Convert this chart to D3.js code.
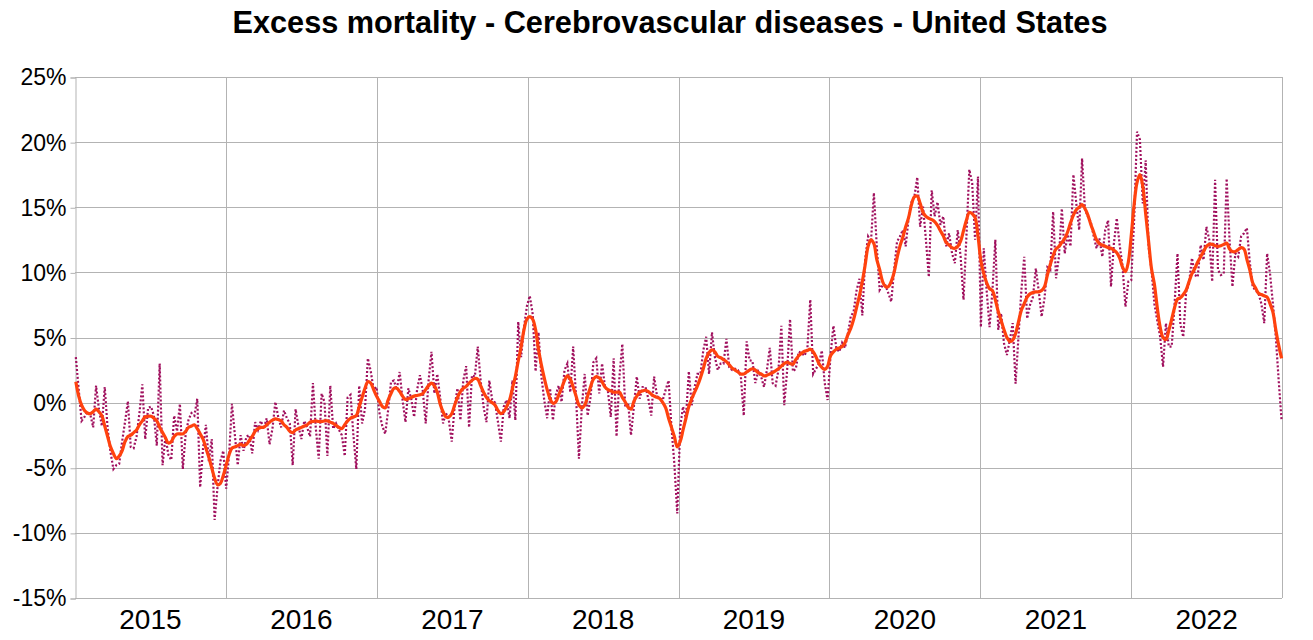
<!DOCTYPE html>
<html>
<head>
<meta charset="utf-8">
<script src="https://cdnjs.cloudflare.com/ajax/libs/d3/7.8.5/d3.min.js"></script>
<style>
  body { margin: 0; background: #fff; }
  svg { display: block; font-family: "Liberation Sans", Arial, sans-serif; }
</style>
</head>
<body>
<svg id="chart"></svg>
<script>
const width = 1313
const height = 640
const margin = {top: 77, right: 31, bottom: 42, left: 75}
const gridColor = "#b3b3b3"
const weeklyColor = "#a0105e"
const smoothColor = "#ff420e"

const title = "Excess mortality - Cerebrovascular diseases - United States"
const years = [2015, 2016, 2017, 2018, 2019, 2020, 2021, 2022]
const yTicks = [-15, -10, -5, 0, 5, 10, 15, 20, 25]
const firstWeek = "2015-01-03"

// weekly excess mortality, %
const weekly = [
  // 2015
  3.5, 1.0, -1.4, -1.1, -0.7, -0.9, -1.9, 1.3, -0.5, -1.8, 1.2, -2.0, -3.8, -5.1, -4.8, -4.7, -3.0, -1.5, 0.1, -3.4, -3.5, -2.6, -0.8, 1.4, -2.8, -0.4, -0.3, -1.0, -3.3, 3.0, -4.8, -2.6, -4.0, -4.4, -1.0, -2.2, -0.1, -5.1, -2.4, -1.3, -0.8, -1.0, 0.3, -6.5, -3.5, -1.7, -4.5, -2.8, -9.0, -6.5, -4.5, -3.7,
  // 2016
  -6.6, -4.0, -0.1, -2.5, -4.8, -2.5, -3.7, -2.6, -2.5, -3.9, -1.5, -2.1, -1.4, -2.0, -1.2, -3.2, -2.0, 0.05, -1.1, -1.9, -0.6, -1.2, -1.6, -4.8, -0.5, -1.8, -2.8, -1.4, -1.9, -2.6, 1.5, -2.0, -4.3, 0.7, 0.05, -4.1, 1.3, -2.0, -1.6, -2.1, -2.5, -4.1, 0.4, 0.6, -2.5, -5.1, 1.3, -1.6, -0.5, 3.4, 2.4, 1.0,
  // 2017
  1.2, -0.8, -1.8, -2.4, -0.6, 1.6, 1.7, 1.0, 2.35, 0.2, -1.5, 1.1, 0.3, -1.1, 0.95, 2.1, 0.9, -1.6, 1.7, 3.9, 0.7, 2.2, 0.4, -1.6, -0.8, -1.35, -3.0, -0.3, 1.1, -1.35, 1.7, 2.8, -1.9, 2.1, 2.0, 4.3, 1.7, -0.3, -1.5, 1.7, 0.2, 0.0, -1.5, -3.0, -0.3, 0.2, -1.2, 1.7, -1.35, 6.2, 3.5, 5.8, 7.4,
  // 2018
  8.2, 6.8, 2.4, 5.4, 2.0, 0.2, -1.2, 1.1, -1.35, 0.6, 1.3, 0.05, 2.5, 3.0, 0.8, 4.3, 0.4, -4.3, -0.3, 2.2, -1.0, 0.4, 3.1, 3.4, 0.7, 3.0, 1.2, 0.9, -1.1, 3.4, -2.6, 2.0, 4.5, -0.3, 0.0, -2.5, -0.3, 2.0, 0.3, 1.2, 1.2, 0.3, -1.0, 2.0, 0.5, 0.3, 0.2, 1.0, 1.7, -1.9, -4.7, -8.5,
  // 2019
  -1.9, -0.3, -1.2, 2.4, -0.2, 1.2, 2.2, 2.2, 4.0, 5.05, 2.2, 5.4, 3.5, 2.5, 3.0, 3.0, 4.9, 2.7, 2.5, 2.6, 2.5, 2.0, -1.0, 4.7, 3.25, 3.2, 1.5, 2.4, 2.0, 1.2, 2.5, 4.2, 1.5, 1.3, 2.5, 5.9, -0.2, 2.5, 6.4, 2.4, 2.6, 3.9, 3.8, 3.6, 4.15, 7.9, 2.2, 2.6, 3.0, 4.0, 1.5, 0.2,
  // 2020
  3.6, 5.9, 4.2, 3.9, 4.6, 4.2, 5.3, 6.6, 7.0, 8.6, 9.5, 6.7, 11.0, 12.75, 12.35, 16.1, 12.0, 8.65, 9.0, 9.0, 8.4, 7.75, 10.2, 12.35, 12.75, 13.25, 12.0, 14.15, 15.4, 15.8, 17.3, 13.5, 15.05, 12.5, 9.65, 16.3, 14.3, 15.4, 13.65, 14.3, 12.0, 13.0, 11.5, 10.7, 13.25, 11.2, 7.9, 12.75, 17.9, 16.85, 12.5, 17.35,
  // 2021
  5.8, 11.85, 8.6, 5.8, 8.6, 12.5, 5.6, 6.85, 4.55, 3.65, 4.8, 6.1, 1.45, 5.05, 8.6, 11.2, 6.45, 7.5, 8.1, 10.3, 8.6, 6.6, 8.0, 10.4, 10.2, 14.65, 9.55, 11.2, 14.9, 11.45, 12.9, 12.0, 17.5, 15.3, 13.25, 18.75, 14.8, 14.3, 13.9, 12.8, 11.85, 12.6, 11.2, 13.25, 14.0, 8.9, 12.2, 14.15, 12.1, 10.45, 7.35, 9.3,
  // 2022
  9.4, 14.0, 20.8, 20.2, 15.3, 18.6, 12.0, 10.2, 7.6, 6.3, 5.05, 2.75, 6.1, 4.3, 4.3, 7.6, 11.45, 6.0, 5.05, 8.5, 9.15, 11.1, 9.8, 9.65, 12.1, 10.95, 13.5, 12.5, 9.3, 17.1, 10.2, 9.8, 9.9, 17.2, 12.5, 8.9, 11.45, 11.2, 12.75, 13.0, 13.4, 10.8, 8.9, 8.6, 8.4, 7.6, 6.1, 11.45, 9.9, 7.6, 5.05, 1.7, -1.4
]

// smoothed trend, %
const smoothed = [
  // 2015
  1.6, 0.5, -0.2, -0.6, -0.8, -0.85, -0.7, -0.5, -0.7, -1.0, -1.8, -2.6, -3.4, -3.9, -4.3, -4.1, -3.7, -3.0, -2.6, -2.5, -2.3, -2.1, -1.7, -1.4, -1.1, -1.05, -1.05, -1.2, -1.4, -1.9, -2.3, -2.7, -3.1, -3.0, -2.6, -2.4, -2.4, -2.4, -2.2, -1.9, -1.8, -1.7, -2.0, -2.4, -2.8, -3.5, -4.2, -5.0, -5.8, -6.3, -6.2, -5.6,
  // 2016
  -4.8, -4.0, -3.5, -3.4, -3.3, -3.2, -3.3, -3.2, -2.9, -2.6, -2.2, -2.0, -1.9, -1.9, -1.7, -1.5, -1.35, -1.25, -1.3, -1.4, -1.7, -1.9, -2.2, -2.3, -2.1, -2.0, -1.9, -1.8, -1.7, -1.5, -1.45, -1.4, -1.45, -1.45, -1.4, -1.4, -1.5, -1.6, -1.75, -1.9, -2.0, -1.7, -1.4, -1.2, -1.1, -1.0, -0.3, 0.4, 1.1, 1.6, 1.5, 1.0,
  // 2017
  0.5, 0.1, -0.3, -0.4, 0.2, 0.7, 1.1, 1.1, 0.85, 0.5, 0.25, 0.3, 0.4, 0.5, 0.55, 0.6, 0.7, 1.0, 1.3, 1.5, 1.3, 0.8, -0.1, -0.7, -1.1, -1.1, -0.85, -0.2, 0.4, 0.85, 1.1, 1.25, 1.5, 1.7, 1.85, 1.8, 1.3, 0.8, 0.4, 0.15, 0.0, -0.2, -0.6, -0.85, -0.7, -0.3, 0.2, 1.1, 2.0, 3.2, 4.3, 5.6, 6.4,
  // 2018
  6.6, 6.4, 5.6, 4.1, 2.9, 1.9, 1.0, 0.3, -0.05, 0.05, 0.6, 1.1, 1.7, 2.05, 1.8, 1.2, 0.5, -0.2, -0.4, -0.2, 0.5, 1.2, 1.8, 2.0, 1.9, 1.6, 1.2, 1.0, 0.9, 0.8, 0.8, 0.8, 0.4, 0.05, -0.35, -0.5, 0.1, 0.5, 0.8, 0.9, 0.95, 0.85, 0.65, 0.5, 0.4, 0.3, 0.0, -0.4, -1.2, -1.9, -2.6, -3.4,
  // 2019
  -3.0, -2.1, -1.2, -0.3, 0.3, 0.8, 1.3, 1.9, 2.6, 3.4, 3.85, 4.05, 3.9, 3.55, 3.45, 3.3, 3.15, 2.9, 2.65, 2.5, 2.35, 2.2, 2.2, 2.35, 2.5, 2.6, 2.5, 2.3, 2.2, 2.05, 2.1, 2.2, 2.3, 2.45, 2.6, 2.8, 3.0, 3.1, 3.0, 2.95, 3.3, 3.6, 3.8, 3.95, 4.0, 4.1, 3.9, 3.5, 3.0, 2.7, 2.55, 2.8,
  // 2020
  3.6, 3.9, 4.1, 4.2, 4.3, 4.6, 5.2, 5.7, 6.4, 7.3, 8.2, 9.3, 10.6, 12.0, 12.5, 12.2, 11.0, 10.2, 9.3, 8.9, 8.9, 9.3, 10.0, 11.1, 12.0, 12.7, 13.5, 14.2, 15.2, 15.8, 15.85, 15.3, 14.6, 14.3, 14.15, 14.05, 13.9, 13.6, 13.2, 12.8, 12.3, 12.1, 11.9, 11.85, 12.0, 12.4, 13.2, 14.0, 14.6, 14.5, 14.2, 12.8,
  // 2021
  10.9, 9.9, 9.2, 8.75, 8.6, 7.9, 7.0, 6.3, 5.6, 5.0, 4.7, 4.8, 5.3, 6.2, 7.1, 7.6, 8.1, 8.35, 8.45, 8.5, 8.5, 8.6, 8.9, 9.8, 10.6, 11.3, 11.8, 12.0, 12.3, 12.6, 13.1, 13.8, 14.4, 14.8, 15.0, 15.2, 14.9, 14.4, 13.7, 13.1, 12.5, 12.2, 12.1, 12.0, 11.9, 11.85, 11.7, 11.5, 11.1, 10.4, 10.05, 10.8,
  // 2022
  12.8, 15.2, 16.9, 17.5, 16.6, 14.5, 12.4, 10.3, 9.1, 7.3, 5.8, 5.0, 4.85, 5.55, 6.4, 7.3, 7.95, 8.05, 8.3, 8.65, 9.3, 9.9, 10.3, 10.8, 11.2, 11.6, 12.0, 12.15, 12.15, 12.05, 12.0, 12.05, 12.15, 12.25, 11.8, 11.6, 11.6, 11.75, 11.9, 11.8, 11.0, 10.2, 9.2, 8.8, 8.4, 8.3, 8.2, 8.1, 7.6, 6.95, 5.6, 4.4, 3.4
]

const start = d3.timeParse("%Y-%m-%d")(firstWeek)
const dates = weekly.map((d, i) => d3.timeWeek.offset(start, i))

const xScale = d3.scaleTime()
    .domain([new Date(years[0], 0, 1), new Date(years[years.length - 1] + 1, 0, 1)])
    .range([margin.left, width - margin.right])

const yScale = d3.scaleLinear()
    .domain([yTicks[0], yTicks[yTicks.length - 1]])
    .range([height - margin.bottom, margin.top])

const svg = d3.select("#chart")
    .attr("width", width)
    .attr("height", height)

// horizontal grid
svg.append("g")
    .selectAll("line")
    .data(yTicks)
    .enter()
    .append("line")
        .attr("x1", margin.left)
        .attr("x2", width - margin.right)
        .attr("y1", d => Math.round(yScale(d)) + 0.5)
        .attr("y2", d => Math.round(yScale(d)) + 0.5)
        .style("stroke", gridColor)

// year separators
const boundaries = years.slice(1).concat([years[years.length - 1] + 1])
svg.append("g")
    .selectAll("line")
    .data(boundaries)
    .enter()
    .append("line")
        .attr("x1", d => Math.round(xScale(new Date(d, 0, 1))) + 0.5)
        .attr("x2", d => Math.round(xScale(new Date(d, 0, 1))) + 0.5)
        .attr("y1", margin.top)
        .attr("y2", height - margin.bottom)
        .style("stroke", gridColor)

// y axis
const yAxis = d3.axisLeft(yScale)
    .tickValues(yTicks)
    .tickFormat(d => d + "%")
    .tickSize(5)
    .tickPadding(4)

const yG = svg.append("g")
    .attr("transform", `translate(${margin.left + 0.5}, 0.5)`)
    .call(yAxis)
yG.selectAll("line, path").style("stroke", gridColor)
yG.selectAll("text")
    .style("font-size", "23px")
    .style("font-family", "Liberation Sans, Arial, sans-serif")
    .style("fill", "#000")

// x axis line
svg.append("line")
    .attr("x1", margin.left)
    .attr("x2", width - margin.right)
    .attr("y1", height - margin.bottom + 0.5)
    .attr("y2", height - margin.bottom + 0.5)
    .style("stroke", gridColor)

// year labels
svg.append("g")
    .selectAll("text")
    .data(years)
    .enter()
    .append("text")
        .attr("x", d => (xScale(new Date(d, 0, 1)) + xScale(new Date(d + 1, 0, 1))) / 2)
        .attr("y", 629)
        .attr("text-anchor", "middle")
        .style("font-size", "28px")
        .style("fill", "#000")
        .text(d => d)

// weekly dotted series
const line = d3.line()
    .x((d, i) => xScale(dates[i]))
    .y(d => yScale(d))

svg.append("path")
    .datum(weekly)
    .attr("d", line)
    .style("fill", "none")
    .style("stroke", weeklyColor)
    .style("stroke-width", 2.2)
    .style("stroke-dasharray", "2,2")

// smoothed trend
svg.append("path")
    .datum(smoothed)
    .attr("d", line.curve(d3.curveCatmullRom))
    .style("fill", "none")
    .style("stroke", smoothColor)
    .style("stroke-width", 3.2)
    .style("stroke-linejoin", "round")

// title
svg.append("text")
    .attr("x", 670)
    .attr("y", 33)
    .attr("text-anchor", "middle")
    .style("font-size", "30.7px")
    .style("font-weight", "bold")
    .style("fill", "#000")
    .text(title)
</script>
</body>
</html>
